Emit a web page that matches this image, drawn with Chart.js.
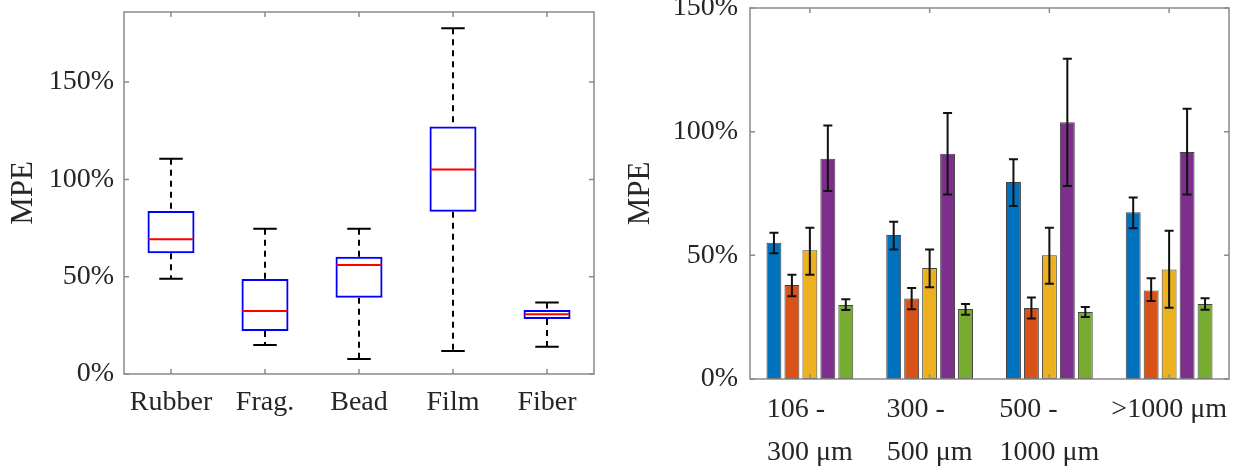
<!DOCTYPE html>
<html>
<head>
<meta charset="utf-8">
<script src="https://cdn.jsdelivr.net/npm/chart.js@4/dist/chart.umd.min.js"></script>
<style>
  html, body { margin: 0; padding: 0; background: #ffffff; }
  #wrap { position: relative; width: 1239px; height: 471px; overflow: hidden; background: #fff; }
  #c1 { position: absolute; left: 0; top: 0; }
  #c2 { position: absolute; left: 620px; top: 0; }
</style>
</head>
<body>
<div id="wrap">
  <canvas id="c1" width="620" height="471"></canvas>
  <canvas id="c2" width="619" height="471"></canvas>
</div>
<script>
// ---------- Left panel: box plot by particle shape ----------
const shapeCategories = ['Rubber', 'Frag.', 'Bead', 'Film', 'Fiber'];
const boxLowerWhisker = [48.9, 14.9, 7.7, 11.8, 14.0];
const boxQ1           = [62.0, 22.1, 39.2, 83.4, 28.2];
const boxMedian       = [69.2, 32.4, 56.0, 105.1, 30.7];
const boxQ3           = [83.7, 48.8, 60.2, 127.2, 32.9];
const boxUpperWhisker = [110.6, 74.6, 74.6, 177.7, 36.8];
const leftTickValues  = [0, 50, 100, 150];

// ---------- Right panel: grouped bars by size class ----------
const sizeCategories = [
  ['106 -    ', '300 μm'],
  ['300 -    ', '500 μm'],
  ['500 -      ', '1000 μm'],
  '>1000 μm'
];
const seriesBlue     = [55.1, 58.2, 79.6, 67.4];
const seriesBlueHi   = [59.1, 63.6, 88.8, 73.4];
const seriesBlueLo   = [50.8, 52.4, 69.9, 60.9];
const seriesOrange   = [38.0, 32.5, 28.7, 35.8];
const seriesOrangeHi = [42.2, 36.8, 33.0, 40.7];
const seriesOrangeLo = [33.5, 28.2, 24.5, 31.5];
const seriesYellow   = [52.1, 44.9, 50.0, 44.3];
const seriesYellowHi = [61.2, 52.4, 61.2, 59.9];
const seriesYellowLo = [42.2, 37.1, 38.5, 28.8];
const seriesPurple   = [89.1, 91.1, 103.8, 91.8];
const seriesPurpleHi = [102.5, 107.5, 129.5, 109.3];
const seriesPurpleLo = [76.0, 74.6, 78.0, 74.6];
const seriesGreen    = [29.9, 28.3, 27.1, 30.3];
const seriesGreenHi  = [32.2, 30.3, 29.1, 32.6];
const seriesGreenLo  = [27.9, 26.0, 25.1, 28.0];
const rightTickValues = [0, 50, 100, 150];

const TEXT = '#262626';
const AXIS = '#8a8a8a';
const FONT = "'Liberation Serif', 'Times New Roman', serif";

// frame + inward ticks, MATLAB style
const framePlugin = {
  id: 'frame',
  afterDraw(chart) {
    const {ctx, chartArea: a, scales} = chart;
    ctx.save();
    ctx.strokeStyle = AXIS;
    ctx.lineWidth = 1.5;
    ctx.strokeRect(a.left, a.top, a.right - a.left, a.bottom - a.top);
    const L = 5;
    ctx.beginPath();
    scales.x.ticks.forEach((t, i) => {
      const px = scales.x.getPixelForTick(i);
      ctx.moveTo(px, a.bottom); ctx.lineTo(px, a.bottom - L);
      ctx.moveTo(px, a.top); ctx.lineTo(px, a.top + L);
    });
    scales.y.ticks.forEach((t) => {
      const py = scales.y.getPixelForValue(t.value);
      ctx.moveTo(a.left, py); ctx.lineTo(a.left + L, py);
      ctx.moveTo(a.right, py); ctx.lineTo(a.right - L, py);
    });
    ctx.stroke();
    ctx.restore();
  }
};

const boxPlugin = {
  id: 'boxExtras',
  beforeDatasetsDraw(chart) {
    const {ctx, scales: {y}} = chart;
    const meta = chart.getDatasetMeta(0);
    ctx.save();
    ctx.strokeStyle = '#000';
    ctx.lineWidth = 2;
    meta.data.forEach((bar, i) => {
      const cap = bar.width / 2;
      const yU = y.getPixelForValue(boxUpperWhisker[i]);
      const yL = y.getPixelForValue(boxLowerWhisker[i]);
      const y3 = y.getPixelForValue(boxQ3[i]);
      const y1 = y.getPixelForValue(boxQ1[i]);
      ctx.setLineDash([6, 5]);
      ctx.beginPath();
      ctx.moveTo(bar.x, yU); ctx.lineTo(bar.x, y3);
      ctx.moveTo(bar.x, y1); ctx.lineTo(bar.x, yL);
      ctx.stroke();
      ctx.setLineDash([]);
      ctx.beginPath();
      ctx.moveTo(bar.x - cap / 2, yU); ctx.lineTo(bar.x + cap / 2, yU);
      ctx.moveTo(bar.x - cap / 2, yL); ctx.lineTo(bar.x + cap / 2, yL);
      ctx.stroke();
    });
    ctx.restore();
  },
  afterDatasetsDraw(chart) {
    const {ctx, scales: {y}} = chart;
    const meta = chart.getDatasetMeta(0);
    ctx.save();
    ctx.strokeStyle = '#ff0000';
    ctx.lineWidth = 2;
    meta.data.forEach((bar, i) => {
      const ym = y.getPixelForValue(boxMedian[i]);
      ctx.beginPath();
      ctx.moveTo(bar.x - bar.width / 2 + 1, ym);
      ctx.lineTo(bar.x + bar.width / 2 - 1, ym);
      ctx.stroke();
    });
    ctx.restore();
  }
};

const errorPlugin = {
  id: 'errorBars',
  afterDatasetsDraw(chart) {
    const {ctx, scales: {y}} = chart;
    ctx.save();
    ctx.strokeStyle = '#111';
    ctx.lineWidth = 2;
    chart.data.datasets.forEach((ds, di) => {
      const meta = chart.getDatasetMeta(di);
      meta.data.forEach((bar, i) => {
        const yh = y.getPixelForValue(ds.errHi[i]);
        const yl = y.getPixelForValue(ds.errLo[i]);
        const c = 4.5;
        ctx.beginPath();
        ctx.moveTo(bar.x, yh); ctx.lineTo(bar.x, yl);
        ctx.moveTo(bar.x - c, yh); ctx.lineTo(bar.x + c, yh);
        ctx.moveTo(bar.x - c, yl); ctx.lineTo(bar.x + c, yl);
        ctx.stroke();
      });
    });
    ctx.restore();
  }
};

function yScale(max, width, tickVals, pad, titlePad) {
  return {
    min: 0, max: max,
    grid: {display: false, drawTicks: false},
    border: {display: false},
    afterBuildTicks(s) { s.ticks = tickVals.map(v => ({value: v})); },
    afterFit(s) { s.width = width; s.paddingTop = 0; s.paddingBottom = 0; },
    ticks: {
      padding: pad, color: TEXT,
      font: {family: FONT, size: 28},
      callback: v => v + '%'
    },
    title: {
      display: true, text: 'MPE', color: TEXT,
      font: {family: FONT, size: 31},
      padding: {top: titlePad, bottom: 0}
    }
  };
}

function xScale(height, pad, lineHeight, extra) {
  return Object.assign({
    grid: {display: false, drawTicks: false},
    border: {display: false},
    afterFit(s) { s.height = height; s.paddingLeft = 0; s.paddingRight = 0; },
    ticks: {
      padding: pad, color: TEXT, maxRotation: 0, autoSkip: false,
      font: {family: FONT, size: 28, lineHeight: lineHeight}
    }
  }, extra || {});
}

new Chart(document.getElementById('c1'), {
  type: 'bar',
  data: {
    labels: shapeCategories,
    datasets: [{
      label: 'IQR',
      data: shapeCategories.map((_, i) => [boxQ1[i], boxQ3[i]]),
      backgroundColor: 'rgba(0,0,0,0)',
      borderColor: '#0000ff',
      borderWidth: 2,
      borderSkipped: false,
      barPercentage: 0.5,
      categoryPercentage: 1.0
    }]
  },
  options: {
    responsive: false, animation: false, devicePixelRatio: 1,
    layout: {padding: {left: 0, right: 26, top: 12, bottom: 0}},
    plugins: {legend: {display: false}, tooltip: {enabled: false}},
    scales: {
      x: xScale(97, 12, 1.2),
      y: yScale(186, 124, leftTickValues, 10, 5.4)
    }
  },
  plugins: [boxPlugin, framePlugin]
});

function series(label, data, hi, lo, color) {
  return {
    label, data, errHi: hi, errLo: lo,
    backgroundColor: color,
    borderColor: 'rgba(35,35,35,0.85)',
    borderWidth: 1,
    borderSkipped: false,
    barPercentage: 0.83,
    categoryPercentage: 0.75
  };
}

new Chart(document.getElementById('c2'), {
  type: 'bar',
  data: {
    labels: sizeCategories,
    datasets: [
      series('Series 1', seriesBlue, seriesBlueHi, seriesBlueLo, '#0072BD'),
      series('Series 2', seriesOrange, seriesOrangeHi, seriesOrangeLo, '#D95319'),
      series('Series 3', seriesYellow, seriesYellowHi, seriesYellowLo, '#EDB120'),
      series('Series 4', seriesPurple, seriesPurpleHi, seriesPurpleLo, '#7E2F8E'),
      series('Series 5', seriesGreen, seriesGreenHi, seriesGreenLo, '#77AC30')
    ]
  },
  options: {
    responsive: false, animation: false, devicePixelRatio: 1,
    layout: {padding: {left: 0, right: 10, top: 8, bottom: 0}},
    plugins: {legend: {display: false}, tooltip: {enabled: false}},
    scales: {
      x: xScale(92, 8.5, 1.55),
      y: yScale(150, 130, rightTickValues, 12, 2.4)
    }
  },
  plugins: [errorPlugin, framePlugin]
});
</script>
</body>
</html>
